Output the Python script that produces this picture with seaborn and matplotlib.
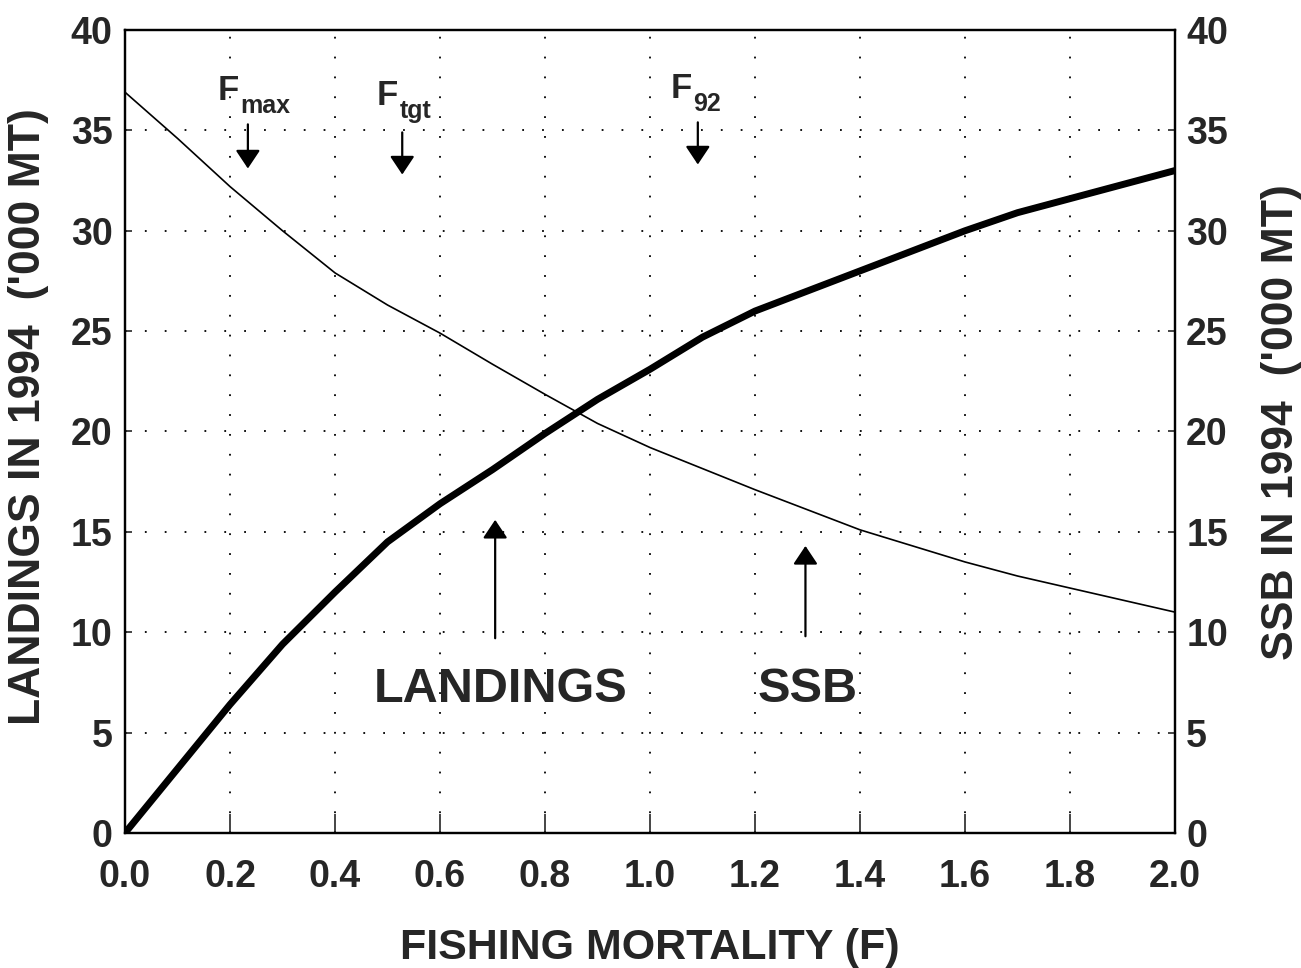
import matplotlib
matplotlib.use("Agg")
import matplotlib.pyplot as plt
import seaborn as sns

# values
fishing_mortality = [0.0, 0.1, 0.2, 0.3, 0.4, 0.5, 0.6, 0.7, 0.8, 0.9, 1.0,
                     1.1, 1.2, 1.3, 1.4, 1.5, 1.6, 1.7, 1.8, 1.9, 2.0]
landings = [0.0, 3.2, 6.4, 9.4, 12.0, 14.5, 16.4, 18.1, 19.9, 21.6, 23.1,
            24.7, 26.0, 27.0, 28.0, 29.0, 30.0, 30.9, 31.6, 32.3, 33.0]
ssb = [36.9, 34.6, 32.2, 30.0, 27.9, 26.3, 24.9, 23.35, 21.85, 20.4, 19.2,
       18.15, 17.1, 16.1, 15.1, 14.3, 13.5, 12.8, 12.2, 11.6, 11.0]

x_ticks = [0.0, 0.2, 0.4, 0.6, 0.8, 1.0, 1.2, 1.4, 1.6, 1.8, 2.0]
y_ticks = [0, 5, 10, 15, 20, 25, 30, 35, 40]

# reference points: "F" + subscript, and the little down arrows
ref_subscripts = ["max", "tgt", "92"]
ref_text_x = [0.217, 0.520, 1.080]
ref_text_y = [36.5, 36.25, 36.6]
ref_arrow_x = [0.234, 0.528, 1.091]
ref_arrow_top = [35.3, 34.9, 35.4]
ref_arrow_tip = [33.1, 32.8, 33.3]

series_labels = ["LANDINGS", "SSB"]
series_label_x = [0.716, 1.301]
series_label_y = [7.17, 7.17]
series_arrow_x = [0.705, 1.296]
series_arrow_base = [9.7, 9.8]
series_arrow_tip = [15.6, 14.3]

sns.set_style("white")
plt.rcParams["font.family"] = ["Liberation Sans", "DejaVu Sans"]
plt.rcParams["font.weight"] = "bold"

fig = plt.figure(figsize=(13.01, 9.68), dpi=100)
ax = fig.add_axes([0.0961, 0.1395, 0.8071, 0.8295])
ax2 = ax.twinx()

sns.lineplot(x=fishing_mortality, y=landings, ax=ax, color="black", linewidth=5)
sns.lineplot(x=fishing_mortality, y=ssb, ax=ax2, color="black", linewidth=1.2)

for a in (ax, ax2):
    a.set_xlim(0, 2.0)
    a.set_ylim(0, 40)
    a.set_yticks(y_ticks)
    for s in a.spines.values():
        s.set_color("black")
        s.set_linewidth(1.6)

ax.set_xticks(x_ticks)
ax.set_xticklabels([f"{v:.1f}" for v in x_ticks])
ax.grid(True, color="black", linestyle=(0, (1, 10)), linewidth=1.3)
ax2.grid(False)

ax.tick_params(axis="x", direction="in", length=14, width=1.2, pad=19,
               labelsize=27, bottom=True)
ax.tick_params(axis="y", direction="in", length=5, width=1.2, pad=9,
               labelsize=27, left=True)
ax2.tick_params(axis="y", direction="in", length=5, width=1.2, pad=8,
                labelsize=27, right=True)

ax.set_xlabel("FISHING MORTALITY (F)", fontsize=31, fontweight="bold")
ax.xaxis.set_label_coords(0.5, -0.118)
ax.set_ylabel("LANDINGS IN 1994  ('000 MT)", fontsize=32, fontweight="bold")
ax2.set_ylabel("SSB IN 1994  ('000 MT)", fontsize=32, fontweight="bold")
ax.yaxis.set_label_coords(-0.072, 0.518)
ax2.yaxis.set_label_coords(1.082, 0.512)

arrow_style = dict(arrowstyle="-|>,head_length=0.45,head_width=0.3", color="black",
                   lw=1.6, mutation_scale=25, shrinkA=0, shrinkB=0)

for sub, tx, ty, axx, top, tip in zip(ref_subscripts, ref_text_x, ref_text_y,
                                      ref_arrow_x, ref_arrow_top, ref_arrow_tip):
    ax.text(tx, ty, "F", fontsize=25, ha="right", va="baseline")
    ax.annotate(sub, xy=(tx, ty), xytext=(1, -9), textcoords="offset points",
                fontsize=18, ha="left", va="baseline")
    ax.annotate("", xy=(axx, tip), xytext=(axx, top), arrowprops=arrow_style)

for lab, tx, ty, axx, base, tip in zip(series_labels, series_label_x, series_label_y,
                                       series_arrow_x, series_arrow_base, series_arrow_tip):
    ax.text(tx, ty, lab, fontsize=35, fontweight="bold", ha="center", va="center")
    ax.annotate("", xy=(axx, tip), xytext=(axx, base), arrowprops=arrow_style)

fig.savefig("out.png", dpi=100)
